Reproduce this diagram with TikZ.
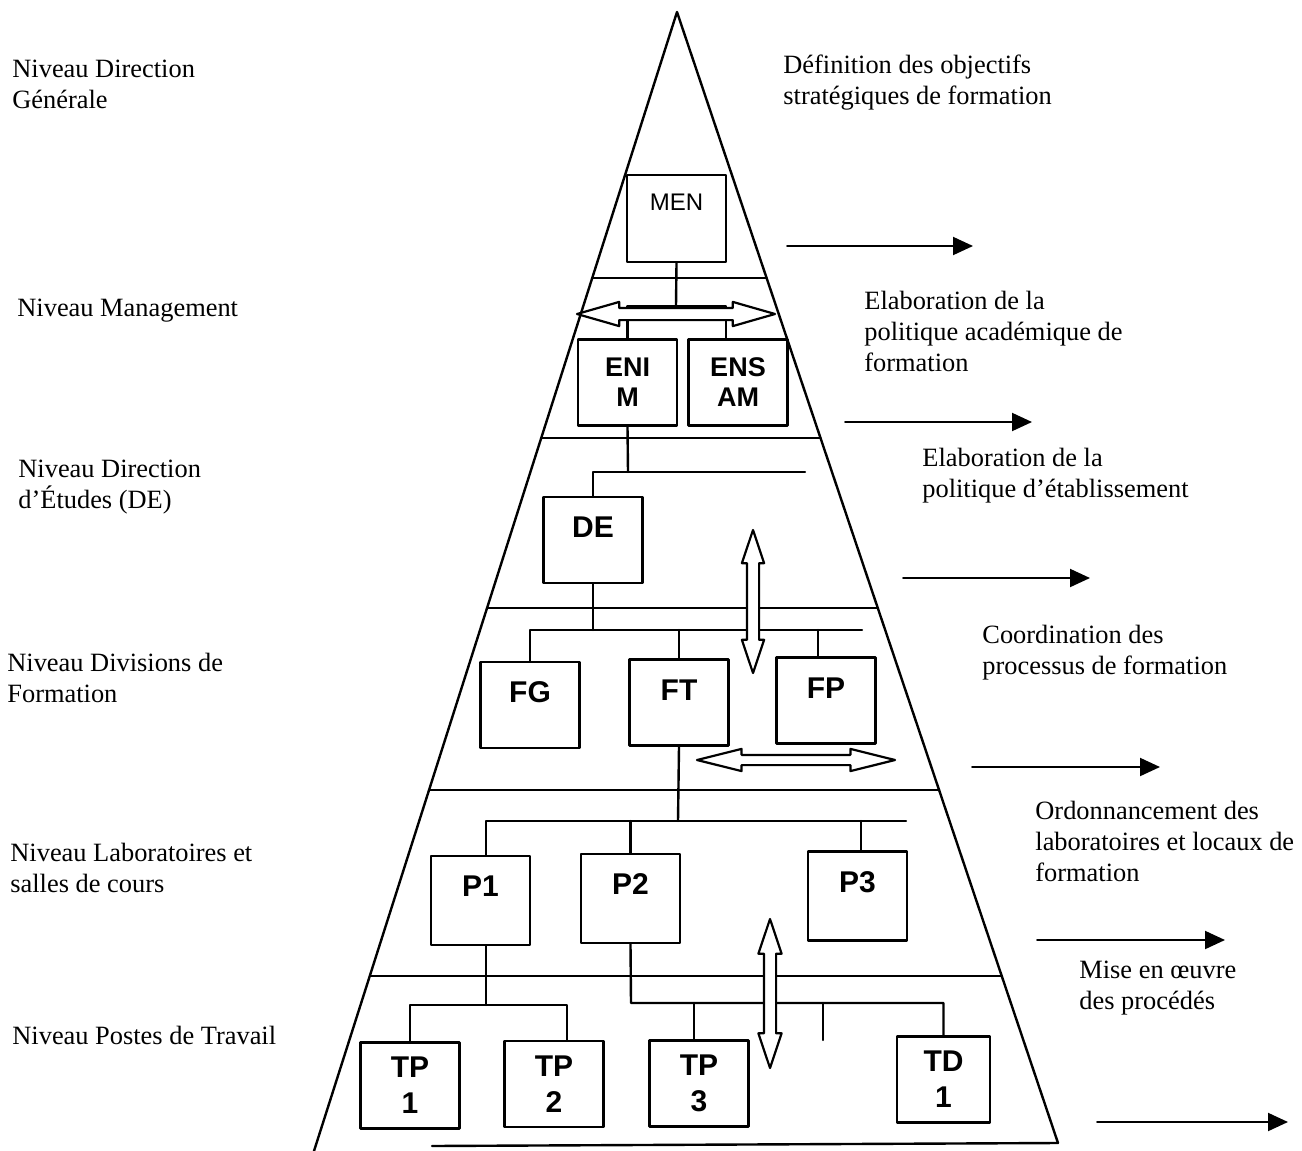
\documentclass[tikz,border=0pt]{standalone}
\usepackage{fontspec}
\setmainfont{Liberation Serif}
\newfontfamily\boxfont{Liberation Sans}
\usetikzlibrary{arrows.meta,shapes.arrows}

\tikzset{
  lvlbox/.style={draw,line width=1.2pt,fill=white,inner sep=0pt,minimum width=49.5pt,
    font=\boxfont\bfseries\fontsize{15}{18}\selectfont,text height=20.4pt,text depth=22.6pt},
  pairbox/.style={draw,line width=1.2pt,fill=white,inner sep=0pt,minimum width=49.5pt,
    minimum height=43pt,align=center},
  flowarrow/.style={draw,fill=white,line width=1.1pt,double arrow,inner xsep=0pt,inner ysep=2.5pt},
  lbl/.style={anchor=west,align=left,inner sep=0pt,font=\fontsize{13.2}{15.5}\selectfont},
}

\begin{document}
\begin{tikzpicture}[line cap=round,line join=round,>={Triangle[length=10pt,width=9pt]},x=0.5pt,y=-0.5pt]
    \useasboundingbox (0,0) rectangle (1302,1151);
    % pyramid
    \draw[line width=1.2pt] (314,1151) -- (677,12) -- (1058,1143);
    \draw[line width=1.2pt] (432,1146) -- (1058,1143);
    \foreach \y in {278,438,608,790,976}
    \draw[line width=1.2pt] ({677-0.3187*(\y-12)},\y) -- ({677+0.3369*(\y-12)},\y);

    % level labels (left)
    \node[lbl] (lvlDG) at (12,84) {Niveau Direction\\Générale};
    \node[lbl] (lvlMG) at (17,311) {Niveau Management};
    \node[lbl] (lvlDE) at (18,487) {Niveau Direction\\d’Études (DE)};
    \node[lbl] (lvlDF) at (7,678) {Niveau Divisions de\\Formation};
    \node[lbl] (lvlLB) at (10,868) {Niveau Laboratoires et\\salles de cours};
    \node[lbl] (lvlPT) at (12,1035) {Niveau Postes de Travail};

    % tasks (right)
    \node[lbl] (tskDG) at (783,83) {Définition des objectifs\\stratégiques de formation};
    \node[lbl] (tskMG) at (864,331) {Elaboration de la\\politique académique de\\formation};
    \node[lbl] (tskDE) at (922,476) {Elaboration de la\\politique d’établissement};
    \node[lbl] (tskDF) at (982,653) {Coordination des\\processus de formation};
    \node[lbl] (tskLB) at (1035,841) {Ordonnancement des\\laboratoires et locaux de\\formation};
    \node[lbl] (tskPT) at (1079,988) {Mise en œuvre\\des procédés};

    \foreach \xa/\xb/\y [count=\i] in {787/973/246,845/1032/422,903/1090/578,972/1160/767,1037/1225/940,1097/1288/1122}{
    \coordinate (out\i a) at (\xa,\y);
    \coordinate (out\i b) at (\xb,\y);
    \draw[->,line width=1pt] (out\i a) -- (out\i b);
    }

    % boxes
    \node[lvlbox,font=\boxfont\fontsize{12}{14}\selectfont,text height=17.8pt,text depth=25.7pt] (MEN) at (676.5,218.5) {MEN};
    \node[pairbox,font=\boxfont\bfseries\fontsize{13.5}{15}\selectfont] (ENIM) at (627.5,382.5) {ENI\\M};
    \node[pairbox,font=\boxfont\bfseries\fontsize{13.5}{15}\selectfont] (ENSAM) at (738,382.5) {ENS\\AM};
    \node[lvlbox] (DE) at (593,540) {DE};
    \node[lvlbox] (FG) at (530,705) {FG};
    \node[lvlbox] (FT) at (679,702.5) {FT};
    \node[lvlbox] (FP) at (826,700.5) {FP};
    \node[lvlbox,text depth=24pt] (P1) at (480.5,900.5) {P1};
    \node[lvlbox,text depth=24pt] (P2) at (630.5,898.5) {P2};
    \node[lvlbox,text depth=24pt] (P3) at (857.5,896) {P3};
    \node[pairbox,font=\boxfont\bfseries\fontsize{15}{18}\selectfont] (TP1) at (410,1085.5) {TP\\1};
    \node[pairbox,font=\boxfont\bfseries\fontsize{15}{18}\selectfont] (TP2) at (554,1084) {TP\\2};
    \node[pairbox,font=\boxfont\bfseries\fontsize{15}{18}\selectfont] (TP3) at (699,1083.5) {TP\\3};
    \node[pairbox,font=\boxfont\bfseries\fontsize{15}{18}\selectfont,minimum width=46.5pt] (TD1) at (943.5,1079.5) {TD\\1};

    % connectors
    \coordinate (jMEN) at (676,306);
    \draw[line width=1.2pt] (MEN.south) -- (jMEN);
    \draw[line width=1.2pt] (ENIM.north) |- (jMEN) -| ([xshift=-6pt]ENSAM.north);
    \coordinate (jENIM) at (628,472);
    \coordinate (endENIM) at (805,472);
    \draw[line width=1.2pt] (ENIM.south) -- (jENIM);
    \draw[line width=1.2pt] (DE.north) |- (endENIM);
    \coordinate (jDE) at (593,630);
    \coordinate (endDE) at (862,630);
    \draw[line width=1.2pt] (DE.south) -- (jDE);
    \draw[line width=1.2pt] (FG.north) |- (endDE);
    \draw[line width=1.2pt] (FT.north) -- (FT.north |- endDE);
    \draw[line width=1.2pt] ([xshift=-4pt]FP.north) -- ([xshift=-4pt]FP.north |- endDE);
    \coordinate (jFT) at (678,821);
    \coordinate (endFT) at (906,821);
    \draw[line width=1.2pt] (FT.south) -- (jFT);
    \draw[line width=1.2pt] ([xshift=2.75pt]P1.north) |- (endFT);
    \draw[line width=1.2pt] (P2.north) -- (P2.north |- endFT);
    \draw[line width=1.2pt] ([xshift=1.75pt]P3.north) -- ([xshift=1.75pt]P3.north |- endFT);
    \coordinate (jP1) at (486,1005);
    \draw[line width=1.2pt] ([xshift=2.75pt]P1.south) -- (jP1);
    \draw[line width=1.2pt] (TP1.north) |- (jP1) -| ([xshift=6.5pt]TP2.north);
    \coordinate (jP2) at (631,1003);
    \draw[line width=1.2pt] (P2.south) -- (jP2) -| (TD1.north);
    \draw[line width=1.2pt] ([xshift=-2.5pt]TP3.north) -- ([xshift=-2.5pt]TP3.north |- jP2);
    \coordinate (stubA) at (823,1003);
    \coordinate (stubB) at (823,1040);
    \draw[line width=1.2pt] (stubA) -- (stubB);

    % double arrows
    \node[flowarrow,minimum height=99pt,double arrow head extend=3pt,double arrow tip angle=32] (hMEN) at (676,314) {};
    \node[flowarrow,rotate=90,minimum height=71.5pt,double arrow head extend=2.5pt,double arrow tip angle=37] (vDE) at (753,601.5) {};
    \node[flowarrow,inner ysep=2pt,minimum height=99pt,double arrow head extend=3pt,double arrow tip angle=28] (hFP) at (796,760) {};
    \node[flowarrow,rotate=90,minimum height=74.5pt,double arrow head extend=2.75pt,double arrow tip angle=37] (vP) at (770,993.5) {};
\end{tikzpicture}
\end{document}
